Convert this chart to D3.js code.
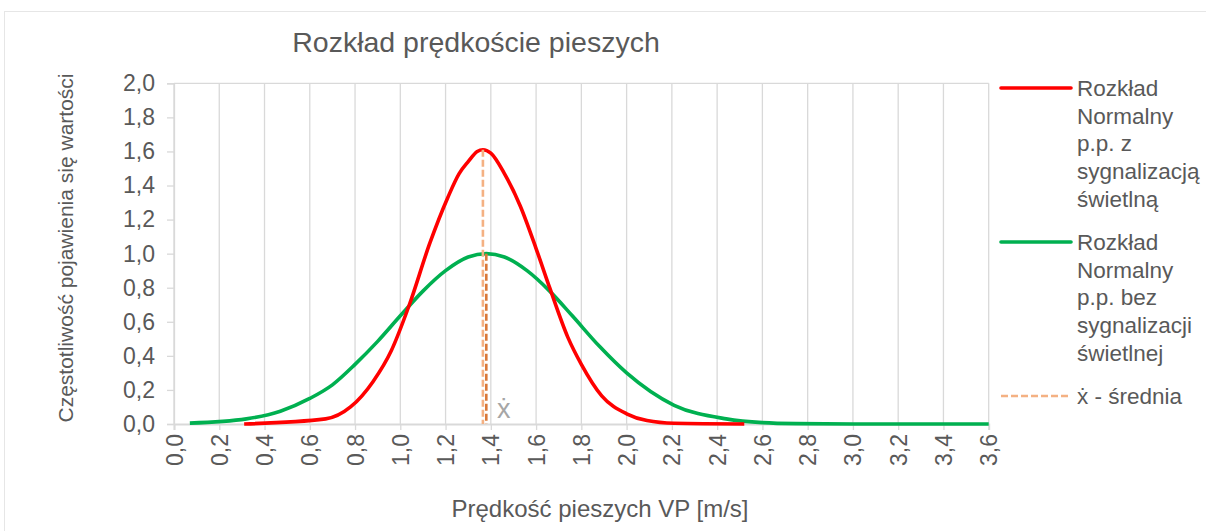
<!DOCTYPE html>
<html>
<head>
<meta charset="utf-8">
<script src="https://cdn.jsdelivr.net/npm/d3@7"></script>
<style>
  html, body { margin: 0; padding: 0; background: #fff; }
  svg { display: block; font-family: "Liberation Sans", Arial, sans-serif; }
</style>
</head>
<body>
<svg id="chart" width="1206" height="531"></svg>
<script>
// Pedestrian speed distributions (speed in m/s, relative frequency)
const signalSpeed = [0.31, 0.67, 0.78, 0.88, 0.96, 1.04, 1.13, 1.21, 1.26, 1.30, 1.34, 1.365, 1.40, 1.46, 1.53, 1.60, 1.66, 1.74, 1.80, 1.89, 2.00, 2.09, 2.21, 2.52];
const signalFreq  = [0.0, 0.03, 0.10, 0.25, 0.43, 0.70, 1.06, 1.33, 1.47, 1.54, 1.60, 1.61, 1.59, 1.47, 1.28, 1.03, 0.80, 0.51, 0.35, 0.165, 0.06, 0.02, 0.004, 0.0];

const noSignalSpeed = [0.07, 0.32, 0.47, 0.60, 0.70, 0.80, 0.90, 1.00, 1.10, 1.20, 1.30, 1.38, 1.46, 1.56, 1.66, 1.76, 1.88, 2.00, 2.21, 2.44, 2.60, 2.75, 3.00, 3.60];
const noSignalFreq  = [0.005, 0.03, 0.075, 0.15, 0.23, 0.35, 0.485, 0.635, 0.78, 0.90, 0.98, 1.00, 0.98, 0.90, 0.78, 0.635, 0.456, 0.30, 0.11, 0.03, 0.008, 0.002, 0.0, 0.0];

// Mean speeds and the peak heights the mean markers reach
const meanSpeed = [1.365, 1.38];
const meanPeak  = [1.61, 1.00];

const xTicks = d3.range(0, 19).map(i => +(i * 0.2).toFixed(1));
const yTicks = d3.range(0, 11).map(i => +(i * 0.2).toFixed(1));

const seriesNames = [
  ["Rozkład", "Normalny", "p.p. z", "sygnalizacją", "świetlną"],
  ["Rozkład", "Normalny", "p.p. bez", "sygnalizacji", "świetlnej"]
];
const meanLabel = "ẋ - średnia";

const fmt = v => v.toFixed(1).replace(".", ",");

const svg = d3.select("#chart");
const W = 1206, H = 531;
const plot = { left: 174, right: 988.7, top: 83.3, bottom: 424 };

const x = d3.scaleLinear().domain([0, 3.6]).range([plot.left, plot.right]);
const y = d3.scaleLinear().domain([0, 2.0]).range([plot.bottom, plot.top]);

// outer frame
svg.append("rect")
  .attr("x", 4.5).attr("y", 11.5).attr("width", W + 10).attr("height", H + 10)
  .attr("fill", "none").attr("stroke", "#E6E6E6").attr("stroke-width", 1);

// title
svg.append("text")
  .attr("x", 476).attr("y", 52)
  .attr("text-anchor", "middle")
  .attr("font-size", 28.5).attr("fill", "#595959")
  .text("Rozkład prędkoście pieszych");

// vertical gridlines
svg.append("g").selectAll("line").data(xTicks).join("line")
  .attr("x1", d => x(d)).attr("x2", d => x(d))
  .attr("y1", y(2.0)).attr("y2", y(0))
  .attr("stroke", "#D9D9D9").attr("stroke-width", 1.3);

// top border of the plot
svg.append("line")
  .attr("x1", x(0)).attr("x2", x(3.6)).attr("y1", y(2.0)).attr("y2", y(2.0))
  .attr("stroke", "#D9D9D9").attr("stroke-width", 1.3);

// y axis
const yAxis = d3.axisLeft(y).tickValues(yTicks).tickFormat(fmt).tickSize(7).tickPadding(12);
const gy = svg.append("g").attr("transform", `translate(${plot.left},0)`).call(yAxis);
gy.select(".domain").attr("stroke", "#D9D9D9").attr("stroke-width", 1.3);
gy.selectAll(".tick line").attr("stroke", "#D9D9D9").attr("stroke-width", 1.3);
gy.selectAll(".tick text").attr("font-size", 23).attr("fill", "#595959")
  .attr("font-family", "Liberation Sans, Arial, sans-serif");

// x axis
const xAxis = d3.axisBottom(x).tickValues(xTicks).tickFormat(fmt).tickSize(6).tickPadding(8);
const gx = svg.append("g").attr("transform", `translate(0,${plot.bottom})`).call(xAxis);
gx.select(".domain").attr("stroke", "#D9D9D9").attr("stroke-width", 2);
gx.selectAll(".tick line").attr("stroke", "#D9D9D9").attr("stroke-width", 1.3);
gx.selectAll(".tick text")
  .attr("font-size", 23).attr("fill", "#595959")
  .attr("font-family", "Liberation Sans, Arial, sans-serif")
  .attr("text-anchor", "end")
  .attr("transform", "rotate(-90)")
  .attr("x", -10).attr("y", 0).attr("dy", "0.35em");

// axis titles
svg.append("text")
  .attr("x", 600).attr("y", 517)
  .attr("text-anchor", "middle").attr("font-size", 24).attr("fill", "#595959")
  .text("Prędkość pieszych VP [m/s]");
svg.append("text")
  .attr("transform", "translate(73,248) rotate(-90)")
  .attr("text-anchor", "middle").attr("font-size", 21).attr("fill", "#595959")
  .text("Częstotliwość pojawienia się wartości");

// distribution curves
const line = d3.line().x(d => x(d[0])).y(d => y(d[1])).curve(d3.curveMonotoneX);
const signalData = d3.zip(signalSpeed, signalFreq);
const noSignalData = d3.zip(noSignalSpeed, noSignalFreq);

svg.append("path").datum(noSignalData)
  .attr("d", line).attr("fill", "none")
  .attr("stroke", "#00B050").attr("stroke-width", 3.6).attr("stroke-linejoin", "round");
svg.append("path").datum(signalData)
  .attr("d", line).attr("fill", "none")
  .attr("stroke", "#FF0000").attr("stroke-width", 3.6).attr("stroke-linejoin", "round");

// mean markers
const meanColors = ["#F4B183", "#D9793A"];
svg.append("g").selectAll("line").data(meanSpeed).join("line")
  .attr("x1", d => x(d)).attr("x2", d => x(d))
  .attr("y1", (d, i) => y(meanPeak[i])).attr("y2", y(0))
  .attr("stroke", (d, i) => meanColors[i])
  .attr("stroke-width", 2.6)
  .attr("stroke-dasharray", "7,3");

svg.append("text")
  .attr("x", 497).attr("y", 418)
  .attr("font-size", 27).attr("fill", "#A6A6A6")
  .text("ẋ");

// legend
const legendColors = ["#FF0000", "#00B050"];
const legendTop = [88, 242];
const lineH = 27.7;
seriesNames.forEach((lines, i) => {
  svg.append("line")
    .attr("x1", 1001).attr("x2", 1071)
    .attr("y1", legendTop[i]).attr("y2", legendTop[i])
    .attr("stroke", legendColors[i]).attr("stroke-width", 3.6).attr("stroke-linecap", "round");
  const t = svg.append("text").attr("font-size", 22.5).attr("fill", "#595959");
  lines.forEach((s, j) => {
    t.append("tspan").attr("x", 1077).attr("y", legendTop[i] + 8 + j * lineH).text(s);
  });
});
svg.append("line")
  .attr("x1", 1001).attr("x2", 1071).attr("y1", 396).attr("y2", 396)
  .attr("stroke", meanColors[0]).attr("stroke-width", 2.6).attr("stroke-dasharray", "7,3");
svg.append("text")
  .attr("x", 1077).attr("y", 404)
  .attr("font-size", 22.5).attr("fill", "#595959")
  .text(meanLabel);
</script>
</body>
</html>
